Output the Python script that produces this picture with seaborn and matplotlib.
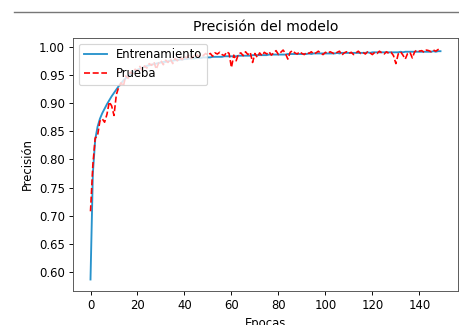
import matplotlib
matplotlib.use("Agg")
import matplotlib.pyplot as plt
from matplotlib.lines import Line2D
import seaborn as sns
import pandas as pd

# Accuracy per epoch for the training and the test sets
entrenamiento = [
    0.587, 0.775, 0.835, 0.858, 0.872, 0.882, 0.890, 0.898, 0.905, 0.912,
    0.918, 0.924, 0.930, 0.935, 0.940, 0.944, 0.948, 0.951, 0.954, 0.957,
    0.959, 0.961, 0.963, 0.964, 0.966, 0.967, 0.968, 0.969, 0.970, 0.971,
    0.972, 0.973, 0.973, 0.974, 0.975, 0.975, 0.976, 0.976, 0.977, 0.977,
    0.978, 0.978, 0.979, 0.979, 0.979, 0.980, 0.980, 0.980, 0.981, 0.981,
    0.981, 0.981, 0.982, 0.982, 0.982, 0.982, 0.982, 0.983, 0.983, 0.983,
    0.983, 0.983, 0.983, 0.984, 0.984, 0.984, 0.984, 0.984, 0.984, 0.985,
    0.985, 0.985, 0.985, 0.985, 0.985, 0.985, 0.986, 0.986, 0.986, 0.986,
    0.986, 0.986, 0.986, 0.986, 0.987, 0.987, 0.987, 0.987, 0.987, 0.987,
    0.987, 0.987, 0.987, 0.988, 0.987, 0.988, 0.988, 0.988, 0.988, 0.988,
    0.988, 0.988, 0.988, 0.988, 0.988, 0.989, 0.988, 0.989, 0.989, 0.989,
    0.989, 0.989, 0.989, 0.989, 0.989, 0.989, 0.989, 0.989, 0.990, 0.989,
    0.990, 0.990, 0.990, 0.990, 0.990, 0.990, 0.990, 0.990, 0.990, 0.990,
    0.990, 0.990, 0.991, 0.990, 0.991, 0.991, 0.991, 0.991, 0.991, 0.991,
    0.991, 0.991, 0.991, 0.991, 0.991, 0.991, 0.992, 0.991, 0.992, 0.992,
]

prueba = [
    0.708, 0.790, 0.838, 0.842, 0.868, 0.872, 0.866, 0.880, 0.902, 0.895,
    0.878, 0.915, 0.928, 0.936, 0.930, 0.948, 0.944, 0.955, 0.952, 0.960,
    0.957, 0.965, 0.958, 0.966, 0.962, 0.970, 0.967, 0.973, 0.960, 0.971,
    0.975, 0.968, 0.976, 0.972, 0.978, 0.970, 0.979, 0.975, 0.981, 0.977,
    0.983, 0.980, 0.986, 0.979, 0.984, 0.987, 0.982, 0.986, 0.984, 0.988,
    0.985, 0.988, 0.983, 0.989, 0.987, 0.990, 0.986, 0.984, 0.991, 0.988,
    0.963, 0.985, 0.975, 0.987, 0.989, 0.984, 0.991, 0.986, 0.990, 0.972,
    0.988, 0.981, 0.989, 0.984, 0.990, 0.987, 0.991, 0.985, 0.989, 0.993,
    0.986, 0.990, 0.994, 0.988, 0.978, 0.990, 0.993, 0.989, 0.987, 0.991,
    0.988, 0.986, 0.990, 0.988, 0.991, 0.987, 0.989, 0.992, 0.988, 0.986,
    0.990, 0.988, 0.991, 0.989, 0.987, 0.990, 0.992, 0.985, 0.989, 0.991,
    0.988, 0.990, 0.986, 0.989, 0.992, 0.988, 0.990, 0.987, 0.991, 0.989,
    0.986, 0.990, 0.988, 0.992, 0.989, 0.987, 0.991, 0.988, 0.990, 0.984,
    0.970, 0.987, 0.991, 0.985, 0.978, 0.988, 0.990, 0.980, 0.991, 0.994,
    0.992, 0.993, 0.990, 0.994, 0.993, 0.991, 0.994, 0.992, 0.995, 0.993,
]

epocas = list(range(len(entrenamiento)))

df = pd.DataFrame({
    "Epocas": epocas,
    "Entrenamiento": entrenamiento,
    "Prueba": prueba,
})

DPI = 84
fig = plt.figure(figsize=(459 / DPI, 325 / DPI), dpi=DPI)
ax = fig.add_axes([73 / 459, 1 - 291 / 325, (458 - 73) / 459, (291 - 38) / 325])

sns.lineplot(data=df, x="Epocas", y="Entrenamiento", ax=ax,
             color="#2893cc", linewidth=1.6, label="Entrenamiento")
sns.lineplot(data=df, x="Epocas", y="Prueba", ax=ax,
             color="red", linewidth=1.4, linestyle="--", label="Prueba")

ax.set_title("Precisión del modelo", fontsize=12)
ax.set_xlabel("Epocas", fontsize=10)
ax.set_ylabel("Precisión", fontsize=10)
ax.set_xticks([0, 20, 40, 60, 80, 100, 120, 140])
ax.set_yticks([0.60, 0.65, 0.70, 0.75, 0.80, 0.85, 0.90, 0.95, 1.00])
ax.set_yticklabels(["0.60", "0.65", "0.70", "0.75", "0.80", "0.85", "0.90", "0.95", "1.00"])
ax.tick_params(labelsize=10)
for s in ax.spines.values():
    s.set_color("#555555")
ax.legend(loc="upper left", fontsize=10)

# cell separator line above the figure
fig.add_artist(Line2D([14 / 459, 1.0], [1 - 12 / 325, 1 - 12 / 325],
                      color="#777777", linewidth=1.2))

fig.savefig("out.png", dpi=DPI)
